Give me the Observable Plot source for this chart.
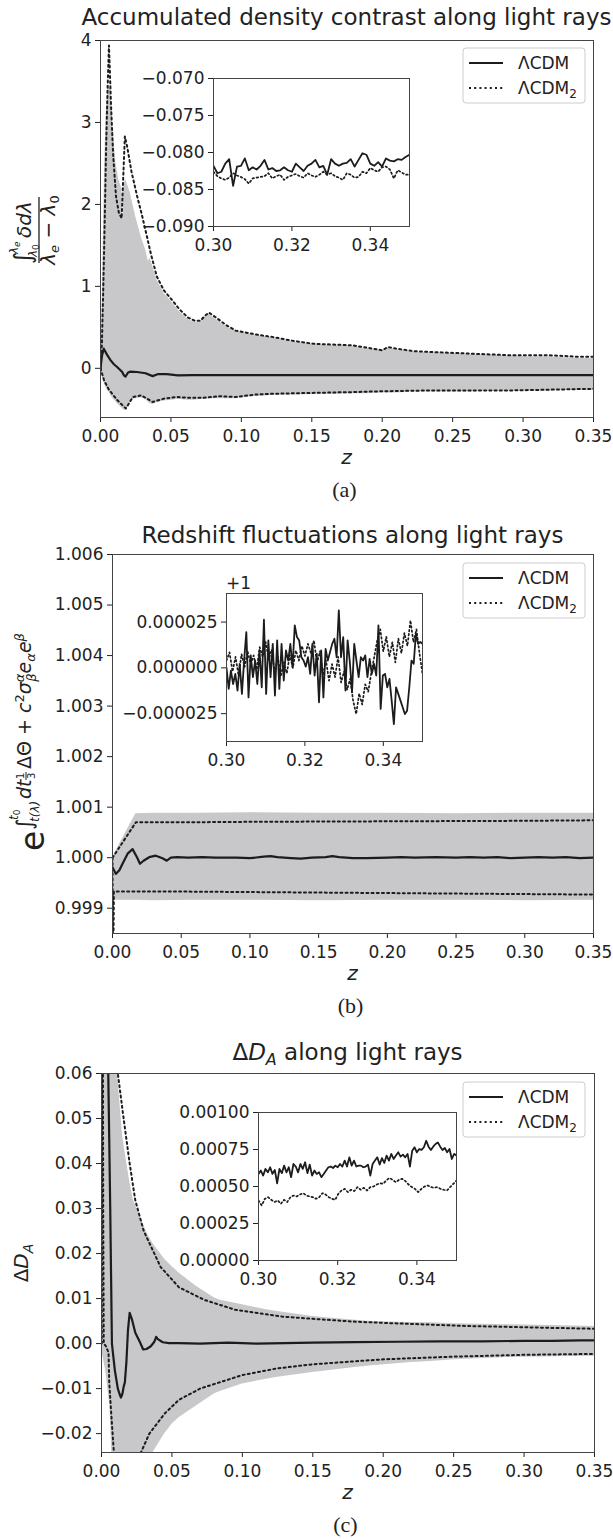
<!DOCTYPE html>
<html>
<head>
<meta charset="utf-8">
<script src="https://cdn.jsdelivr.net/npm/d3@7"></script>
<script src="https://cdn.jsdelivr.net/npm/@observablehq/plot@0.6"></script>
<style>
  html, body { margin: 0; padding: 0; background: #ffffff; }
  #root { position: relative; width: 613px; height: 1539px; overflow: hidden; background: #ffffff; }
  .slot { position: absolute; }
  #overlay { position: absolute; left: 0; top: 0; pointer-events: none; }
</style>
</head>
<body>
<div id="root"></div>
<script>
// ---------------- shared ticks / labels ----------------
const xTicks = [0, 0.05, 0.10, 0.15, 0.20, 0.25, 0.30, 0.35];
const insetXTicks = [0.30, 0.32, 0.34];
const seriesLabels = [{base: "ΛCDM", sub: ""}, {base: "ΛCDM", sub: "2"}];
const titles = ["Accumulated density contrast along light rays", "Redshift fluctuations along light rays", " along light rays"];
const captions = ["(a)", "(b)", "(c)"];

// ---------------- panel (a) ----------------
const yTicksA = [0, 1, 2, 3, 4];
const bandA_z  = [0, 0.001, 0.002, 0.003, 0.004, 0.005, 0.006, 0.007, 0.008, 0.009, 0.011, 0.013, 0.015, 0.016, 0.0165, 0.018, 0.021, 0.023, 0.025, 0.029, 0.032, 0.034, 0.035, 0.037, 0.040, 0.045, 0.051, 0.054, 0.056, 0.062, 0.067, 0.071, 0.074, 0.077, 0.082, 0.089, 0.096, 0.105, 0.115, 0.123, 0.135, 0.151, 0.165, 0.179, 0.190, 0.200, 0.204, 0.210, 0.222, 0.234, 0.248, 0.262, 0.276, 0.290, 0.304, 0.317, 0.330, 0.340, 0.350];
const bandA_hi = [0, 0.6, 1.6, 2.5, 3.1, 3.35, 3.45, 3.4, 3.2, 2.9, 2.5, 2.3, 2.2, 1.8, 2.25, 2.3, 2.15, 2.0, 1.85, 1.6, 1.45, 1.3, 1.35, 1.25, 1.08, 0.92, 0.80, 0.74, 0.69, 0.60, 0.56, 0.56, 0.62, 0.66, 0.60, 0.51, 0.45, 0.42, 0.39, 0.37, 0.33, 0.29, 0.28, 0.27, 0.24, 0.21, 0.25, 0.23, 0.20, 0.19, 0.18, 0.17, 0.16, 0.15, 0.14, 0.14, 0.13, 0.12, 0.12];
const bandA_lo = [0, -0.08, -0.15, -0.2, -0.24, -0.27, -0.29, -0.32, -0.35, -0.37, -0.41, -0.45, -0.48, -0.50, -0.51, -0.51, -0.42, -0.38, -0.37, -0.36, -0.38, -0.41, -0.43, -0.44, -0.42, -0.40, -0.39, -0.38, -0.38, -0.39, -0.39, -0.38, -0.38, -0.37, -0.37, -0.37, -0.37, -0.35, -0.34, -0.33, -0.33, -0.32, -0.32, -0.31, -0.31, -0.30, -0.30, -0.30, -0.29, -0.29, -0.29, -0.29, -0.28, -0.28, -0.28, -0.28, -0.27, -0.27, -0.27];
const upA2_z = [0, 0.001, 0.002, 0.003, 0.004, 0.005, 0.006, 0.0075, 0.009, 0.011, 0.013, 0.015, 0.0163, 0.0173, 0.019, 0.022, 0.026, 0.029, 0.032, 0.036, 0.040, 0.045, 0.051, 0.056, 0.062, 0.067, 0.071, 0.074, 0.077, 0.082, 0.089, 0.096, 0.105, 0.115, 0.123, 0.135, 0.151, 0.165, 0.179, 0.190, 0.200, 0.204, 0.210, 0.222, 0.234, 0.248, 0.262, 0.276, 0.290, 0.304, 0.317, 0.330, 0.340, 0.350];
const upA2_v = [0, 0.3, 1.0, 1.8, 2.7, 3.4, 3.94, 3.2, 2.6, 2.1, 1.9, 1.83, 2.4, 2.83, 2.7, 2.4, 2.1, 1.9, 1.68, 1.38, 1.12, 0.95, 0.83, 0.72, 0.62, 0.58, 0.58, 0.64, 0.68, 0.62, 0.53, 0.46, 0.43, 0.40, 0.38, 0.34, 0.30, 0.29, 0.28, 0.25, 0.22, 0.26, 0.24, 0.21, 0.20, 0.19, 0.18, 0.17, 0.16, 0.16, 0.16, 0.15, 0.14, 0.14];
const loA2_z = [0, 0.0026, 0.006, 0.012, 0.018, 0.023, 0.029, 0.037, 0.045, 0.054, 0.063, 0.073, 0.085, 0.096, 0.110, 0.123, 0.150, 0.179, 0.200, 0.234, 0.260, 0.290, 0.320, 0.350];
const loA2_v = [0, -0.15, -0.26, -0.39, -0.49, -0.35, -0.33, -0.41, -0.37, -0.35, -0.36, -0.36, -0.34, -0.35, -0.32, -0.31, -0.30, -0.29, -0.28, -0.27, -0.27, -0.27, -0.26, -0.25];
const meanA_z = [0, 0.001, 0.0023, 0.0045, 0.0071, 0.0095, 0.0118, 0.0140, 0.0154, 0.0166, 0.0178, 0.0194, 0.021, 0.026, 0.032, 0.037, 0.041, 0.047, 0.055, 0.065, 0.08, 0.10, 0.15, 0.20, 0.25, 0.30, 0.35];
const meanA_v = [0, 0.15, 0.24, 0.17, 0.10, 0.05, 0.016, -0.02, -0.045, -0.085, -0.10, -0.055, -0.04, -0.045, -0.06, -0.095, -0.07, -0.07, -0.085, -0.082, -0.082, -0.082, -0.082, -0.082, -0.082, -0.082, -0.082];
// inset (a): 0.300 ... 0.350 every 0.001
const insetA_yTicks = [-0.090, -0.085, -0.080, -0.075, -0.070];
const insetA_solid = [-0.0818, -0.0828, -0.0826, -0.0815, -0.0809, -0.0845, -0.0819, -0.0818, -0.0808, -0.0824, -0.0820, -0.0823, -0.0818, -0.0810, -0.0823, -0.0821, -0.0825, -0.0824, -0.0820, -0.0824, -0.0826, -0.0815, -0.0820, -0.0825, -0.0818, -0.0815, -0.0810, -0.0820, -0.0818, -0.0830, -0.0809, -0.0815, -0.0818, -0.0815, -0.0814, -0.0809, -0.0819, -0.0810, -0.0801, -0.0803, -0.0815, -0.0818, -0.0813, -0.0819, -0.0808, -0.0811, -0.0812, -0.0809, -0.0810, -0.0806, -0.0803];
const insetA_dotted = [-0.0826, -0.0832, -0.0835, -0.0837, -0.0834, -0.0828, -0.0831, -0.0833, -0.0836, -0.0842, -0.0835, -0.0834, -0.0833, -0.0832, -0.0828, -0.0835, -0.0832, -0.0830, -0.0837, -0.0833, -0.0831, -0.0829, -0.0832, -0.0834, -0.0828, -0.0831, -0.0833, -0.0830, -0.0826, -0.0830, -0.0828, -0.0832, -0.0834, -0.0837, -0.0828, -0.0830, -0.0834, -0.0833, -0.0826, -0.0828, -0.0821, -0.0824, -0.0826, -0.0820, -0.0819, -0.0823, -0.0835, -0.0824, -0.0827, -0.0830, -0.0830];

// ---------------- panel (b) ----------------
const yTicksB = [0.999, 1.000, 1.001, 1.002, 1.003, 1.004, 1.005, 1.006];
const bandB_z  = [0, 0.0008, 0.005, 0.010, 0.017, 0.030, 0.060, 0.100, 0.150, 0.200, 0.250, 0.300, 0.350];
const bandB_hi = [1.00000, 1.00004, 1.00026, 1.00052, 1.00087, 1.00088, 1.00088, 1.00089, 1.00088, 1.00088, 1.00087, 1.00088, 1.00088];
const bandB_lo = [0.99990, 0.99916, 0.99916, 0.99916, 0.99916, 0.99915, 0.99916, 0.99916, 0.99915, 0.99916, 0.99916, 0.99915, 0.99916];
const upB2_z = [0, 0.017, 0.05, 0.10, 0.20, 0.30, 0.35];
const upB2_v = [1.00000, 1.00070, 1.00070, 1.00071, 1.00072, 1.00073, 1.00074];
const loB2_z = [0, 0.0003, 0.0006, 0.0010, 0.05, 0.10, 0.20, 0.30, 0.35];
const loB2_v = [1.00000, 0.99800, 0.99800, 0.99933, 0.99933, 0.99932, 0.99930, 0.99928, 0.99927];
const meanB_z = [0, 0.0024, 0.005, 0.0073, 0.011, 0.0146, 0.018, 0.020, 0.0226, 0.0267, 0.0315, 0.0364, 0.0395, 0.0425, 0.047, 0.055, 0.065, 0.075, 0.090, 0.100, 0.110, 0.115, 0.120, 0.130, 0.137, 0.145, 0.155, 0.160, 0.165, 0.175, 0.185, 0.200, 0.210, 0.220, 0.235, 0.250, 0.260, 0.270, 0.280, 0.290, 0.300, 0.310, 0.320, 0.330, 0.340, 0.350];
const meanB_v = [0.99981, 0.99968, 0.99975, 0.99988, 1.00008, 1.00017, 1.00000, 0.99988, 0.99994, 1.00001, 1.00004, 0.99999, 0.99994, 1.00000, 1.00001, 1.00000, 1.00001, 1.00000, 1.00000, 0.99999, 1.00002, 1.00003, 1.00001, 0.99999, 0.99998, 1.00000, 1.00001, 1.00003, 1.00001, 0.99999, 0.99999, 1.00000, 1.00001, 1.00000, 1.00001, 1.00000, 1.00001, 1.00000, 1.00001, 0.99999, 1.00000, 1.00001, 1.00000, 1.00001, 0.99999, 1.00000];
// inset (b): deviations from 1, in units of 1e-6, evenly spaced over 0.30 ... 0.35
const insetB_yTicks = [-0.000025, 0, 0.000025];
const insetB_solid_micro = [0, -11.5, -1.5, -8.8, -3.3, -12.4, 2.2, -14.2, 4.0, 19.5, -16.1, 6.8, -5.1, 4.0, -8.8, 9.5, -10.6, 26.3, -14.2, 15.0, -5.1, 13.1, -15.1, 15.0, -11.5, 13.1, -6.9, 9.5, 4.0, 13.1, 0.4, 23.2, 16.8, 15.0, 5.8, 4.0, 0.7, 5.8, -3.3, 13.1, -4.2, 7.7, -18.8, 9.5, -16.1, 10.4, 4.0, 8.6, 13.1, 15.9, 5.8, 31.4, 5.8, 16.8, -12.4, 15.0, 3.1, -13.3, 13.1, 4.0, -5.1, 5.8, 4.0, 6.8, -5.1, 4.9, -3.3, 2.2, -4.2, 23.2, -22.4, -4.2, -3.3, -10.6, -6.0, -17.9, -30.7, -10.6, -14.2, -17.9, -21.5, -25.2, -23.4, -10.6, 4.0, 2.2, 18.6, 13.1, 14.1, 13.1];
const insetB_dotted_micro = [4.0, 8.5, -2.0, 6.0, -4.2, 7.5, 0.5, 9.0, 2.0, 6.8, -1.0, 11.3, 6.0, 14.1, 4.5, 10.0, -2.5, 6.0, -4.5, 3.0, -3.0, 7.0, 0.0, 9.5, 4.0, 12.0, 6.5, 13.1, 8.0, 15.0, 2.5, 9.0, -4.0, 4.0, -7.0, 2.0, -5.0, 6.0, -8.0, -2.0, -12.0, -6.0, -18.0, -25.2, -14.0, -20.0, -9.0, -13.0, -3.0, 6.0, 15.0, 21.0, 9.0, 17.0, 6.0, 14.0, 3.0, 16.0, 8.0, 19.0, 12.0, 25.9, 14.0, 21.0, 8.0, -3.3];

// ---------------- panel (c) ----------------
const yTicksC = [-0.02, -0.01, 0, 0.01, 0.02, 0.03, 0.04, 0.05, 0.06];
const bandC_z  = [0, 0.0004, 0.003, 0.006, 0.008, 0.0114, 0.015, 0.020, 0.0227, 0.0324, 0.0366, 0.045, 0.0504, 0.055, 0.067, 0.080, 0.0837, 0.100, 0.117, 0.125, 0.150, 0.180, 0.192, 0.220, 0.234, 0.250, 0.289, 0.320, 0.350];
const bandC_hi = [0, 0.2, 0.2, 0.11, 0.085, 0.06, 0.046, 0.036, 0.0318, 0.0245, 0.0222, 0.0187, 0.0170, 0.0157, 0.0128, 0.0102, 0.0097, 0.0086, 0.0075, 0.0071, 0.0060, 0.0052, 0.0049, 0.0047, 0.0046, 0.0044, 0.0042, 0.0040, 0.0038];
const bandC_lo = [0, -0.002, -0.006, -0.014, -0.03, -0.08, -0.06, -0.045, -0.04, -0.028, -0.0242, -0.0200, -0.0178, -0.0165, -0.0139, -0.0112, -0.0107, -0.0090, -0.0079, -0.0075, -0.0064, -0.0053, -0.0049, -0.0042, -0.0040, -0.0036, -0.0031, -0.0029, -0.0028];
const upC2_z = [0, 0.0005, 0.004, 0.0116, 0.0157, 0.020, 0.024, 0.030, 0.042, 0.055, 0.073, 0.095, 0.128, 0.150, 0.178, 0.200, 0.234, 0.260, 0.290, 0.317, 0.350];
const upC2_v = [0, 0.15, 0.15, 0.060, 0.050, 0.040, 0.0318, 0.025, 0.0170, 0.0125, 0.0097, 0.0075, 0.0060, 0.0055, 0.0049, 0.0046, 0.0042, 0.0039, 0.0037, 0.0035, 0.0033];
const loC2_z = [0, 0.0005, 0.0012, 0.0016, 0.003, 0.005, 0.0055, 0.007, 0.0088, 0.010, 0.015, 0.020, 0.028, 0.034, 0.045, 0.055, 0.070, 0.085, 0.100, 0.125, 0.150, 0.200, 0.250, 0.300, 0.350];
const loC2_v = [0, 0.15, 0.03, 0.0, -0.0005, -0.002, -0.0086, -0.016, -0.0242, -0.03, -0.06, -0.04, -0.0242, -0.020, -0.0155, -0.0125, -0.0100, -0.0085, -0.0070, -0.0055, -0.0046, -0.0035, -0.0029, -0.0025, -0.0023];
const meanC_z = [0, 0.004, 0.0048, 0.0062, 0.0074, 0.0095, 0.0116, 0.0128, 0.0138, 0.0148, 0.0158, 0.0166, 0.0177, 0.0188, 0.020, 0.0215, 0.024, 0.027, 0.0296, 0.032, 0.035, 0.0375, 0.0388, 0.040, 0.0435, 0.048, 0.055, 0.070, 0.090, 0.110, 0.130, 0.150, 0.180, 0.210, 0.240, 0.270, 0.300, 0.320, 0.340, 0.350];
const meanC_v = [0.15, 0.10, 0.06, 0.03, 0.0, -0.006, -0.0100, -0.0112, -0.0120, -0.0112, -0.0095, -0.0086, -0.004, 0.003, 0.0068, 0.0055, 0.0024, 0.0005, -0.0013, -0.0012, -0.0006, 0.0004, 0.0015, 0.0010, 0.0003, 0.0001, 0.0001, 0.0000, 0.0002, 0.0000, 0.0001, 0.0002, 0.0003, 0.0004, 0.0005, 0.0005, 0.0006, 0.0006, 0.0007, 0.0007];
// inset (c): values in units of 1e-6, evenly spaced over 0.30 ... 0.35
const insetC_yTicks = [0, 0.00025, 0.0005, 0.00075, 0.001];
const insetC_solid_micro = [585, 608, 574, 619, 596, 630, 585, 612, 522, 619, 590, 641, 596, 630, 563, 652, 635, 596, 652, 619, 664, 590, 648, 574, 608, 585, 596, 563, 585, 608, 630, 635, 625, 641, 630, 652, 635, 675, 635, 697, 641, 675, 635, 641, 641, 630, 635, 648, 574, 652, 675, 697, 648, 692, 659, 709, 675, 720, 686, 709, 731, 702, 715, 697, 720, 635, 742, 765, 731, 753, 747, 765, 809, 769, 747, 769, 787, 798, 769, 747, 760, 731, 753, 686, 720, 709];
const insetC_dotted_micro = [406, 372, 417, 428, 410, 395, 406, 383, 410, 395, 428, 439, 433, 446, 455, 439, 433, 428, 417, 428, 455, 446, 428, 417, 410, 451, 473, 484, 462, 478, 469, 496, 478, 491, 473, 496, 500, 513, 522, 518, 540, 558, 545, 529, 545, 552, 536, 513, 496, 484, 462, 484, 500, 507, 496, 491, 496, 484, 478, 473, 496, 518, 540];

// ---------------- style constants ----------------
const FONT = "DejaVu Sans, Verdana, sans-serif";
const INK = "#222222";
const LINE = "#1c1c1c";
const BAND = "#c8c8cb";
const FRAME = "#444444";
const DASH = "2,3.2";
const DASH_IN = "1.6,2.6";

const minus = s => s.replace("-", "\u2212");
const rows = (z, v, k = 1) => z.map((zz, i) => ({z: zz, v: v[i] * k}));
const band = (z, lo, hi) => z.map((zz, i) => ({z: zz, lo: lo[i], hi: hi[i]}));
const evenRows = (v, k = 1) => v.map((vv, i) => ({z: 0.30 + i * 0.05 / (v.length - 1), v: vv * k}));

const root = document.getElementById("root");
function place(node, left, top) {
  const d = document.createElement("div");
  d.className = "slot";
  d.style.left = left + "px";
  d.style.top = top + "px";
  d.appendChild(node);
  root.appendChild(d);
}

function mainPlot({height, mL, mR, yDomain, yTicks, yFmt, bandData, lines}) {
  return Plot.plot({
    width: 613, height,
    marginLeft: mL, marginRight: mR, marginTop: 40, marginBottom: 40,
    style: {fontFamily: FONT, fontSize: "17px", color: INK, background: "transparent", overflow: "visible"},
    x: {domain: [0, 0.35], ticks: xTicks, tickFormat: d => d.toFixed(2), tickSize: 5, tickPadding: 7, label: null},
    y: {domain: yDomain, ticks: yTicks, tickFormat: yFmt, tickSize: 5, tickPadding: 4, label: null},
    marks: [
      Plot.areaY(bandData, {x: "z", y1: "lo", y2: "hi", fill: BAND, clip: true}),
      ...lines,
      Plot.frame({stroke: FRAME, strokeWidth: 1})
    ]
  });
}

function insetPlot({mL, fw, yDomain, yTicks, yFmt, solid, dotted}) {
  return Plot.plot({
    width: mL + fw + 14, height: 10 + 148 + 32,
    marginLeft: mL, marginRight: 14, marginTop: 10, marginBottom: 32,
    style: {fontFamily: FONT, fontSize: "17px", color: INK, background: "transparent", overflow: "visible"},
    x: {domain: [0.30, 0.35], ticks: insetXTicks, tickFormat: d => d.toFixed(2), tickSize: 5, tickPadding: 7, label: null},
    y: {domain: yDomain, ticks: yTicks, tickFormat: yFmt, tickSize: 5, tickPadding: 4, label: null},
    marks: [
      Plot.frame({fill: "white", stroke: "none"}),
      Plot.line(dotted, {x: "z", y: "v", stroke: LINE, strokeWidth: 1.7, strokeDasharray: DASH_IN, clip: true}),
      Plot.line(solid, {x: "z", y: "v", stroke: LINE, strokeWidth: 1.8, clip: true}),
      Plot.frame({stroke: FRAME, strokeWidth: 1})
    ]
  });
}

const solidMark = (data) => Plot.line(data, {x: "z", y: "v", stroke: LINE, strokeWidth: 2.2, clip: true});
const dotMark = (data) => Plot.line(data, {x: "z", y: "v", stroke: LINE, strokeWidth: 2, strokeDasharray: DASH, clip: true});

// ---- main plots ----
place(mainPlot({
  height: 457, mL: 100, mR: 20, yDomain: [-0.6, 4], yTicks: yTicksA, yFmt: d => minus(String(d)),
  bandData: band(bandA_z, bandA_lo, bandA_hi),
  lines: [dotMark(rows(upA2_z, upA2_v)), dotMark(rows(loA2_z, loA2_v)), solidMark(rows(meanA_z, meanA_v))]
}), 0, 0);

place(mainPlot({
  height: 459, mL: 112, mR: 20, yDomain: [0.9985, 1.006], yTicks: yTicksB, yFmt: d => d.toFixed(3),
  bandData: band(bandB_z, bandB_lo, bandB_hi),
  lines: [dotMark(rows(upB2_z, upB2_v)), dotMark(rows(loB2_z, loB2_v)), solidMark(rows(meanB_z, meanB_v))]
}), 0, 514);

place(mainPlot({
  height: 459, mL: 101, mR: 19, yDomain: [-0.0242, 0.06], yTicks: yTicksC, yFmt: d => minus(d.toFixed(2)),
  bandData: band(bandC_z, bandC_lo, bandC_hi),
  lines: [dotMark(rows(upC2_z, upC2_v)), dotMark(rows(loC2_z, loC2_v)), solidMark(rows(meanC_z, meanC_v))]
}), 0, 1033);

// ---- insets ----
place(insetPlot({
  mL: 90, fw: 196, yDomain: [-0.090, -0.070], yTicks: insetA_yTicks, yFmt: d => minus(d.toFixed(3)),
  solid: evenRows(insetA_solid), dotted: evenRows(insetA_dotted)
}), 213 - 90, 78 - 10);

place(insetPlot({
  mL: 115, fw: 196, yDomain: [-0.0000402, 0.0000406], yTicks: insetB_yTicks, yFmt: d => minus(d.toFixed(6)),
  solid: evenRows(insetB_solid_micro, 1e-6), dotted: evenRows(insetB_dotted_micro, 1e-6)
}), 226 - 115, 593 - 10);

place(insetPlot({
  mL: 90, fw: 198, yDomain: [0, 0.001], yTicks: insetC_yTicks, yFmt: d => d.toFixed(5),
  solid: evenRows(insetC_solid_micro, 1e-6), dotted: evenRows(insetC_dotted_micro, 1e-6)
}), 258 - 90, 1112 - 10);

// ---------------- text overlay ----------------
const ov = d3.select(root).append("svg").attr("id", "overlay")
  .attr("width", 613).attr("height", 1539)
  .attr("font-family", FONT).attr("fill", INK);

// titles
ov.append("text").attr("x", 346.5).attr("y", 25).attr("text-anchor", "middle").attr("font-size", 23).text(titles[0]);
ov.append("text").attr("x", 352.5).attr("y", 543).attr("text-anchor", "middle").attr("font-size", 23).text(titles[1]);
{
  const t = ov.append("text").attr("x", 347.5).attr("y", 1060).attr("text-anchor", "middle").attr("font-size", 23);
  t.append("tspan").text("Δ");
  t.append("tspan").attr("font-style", "italic").text("D");
  t.append("tspan").attr("font-style", "italic").attr("font-size", 16).attr("dy", 5).text("A");
  t.append("tspan").attr("dy", -5).text(titles[2]);
}

// x labels and captions
[[346.5, 417], [352.5, 933], [347.5, 1452]].forEach(([cx, fb], i) => {
  ov.append("text").attr("x", cx).attr("y", fb + 47).attr("text-anchor", "middle")
    .attr("font-size", 20).attr("font-style", "italic").text("z");
  ov.append("text").attr("x", cx - 2).attr("y", fb + 80).attr("text-anchor", "middle")
    .attr("font-family", "Liberation Serif, Times New Roman, serif").attr("font-size", 22).text(captions[i]);
});

// legends
function legend(x, y) {
  const g = ov.append("g");
  g.append("rect").attr("x", x).attr("y", y).attr("width", 122).attr("height", 55).attr("rx", 3)
    .attr("fill", "white").attr("fill-opacity", 0.85).attr("stroke", "#cccccc").attr("stroke-width", 1);
  g.append("line").attr("x1", x + 6).attr("x2", x + 40).attr("y1", y + 15).attr("y2", y + 15)
    .attr("stroke", LINE).attr("stroke-width", 2.2);
  g.append("line").attr("x1", x + 6).attr("x2", x + 40).attr("y1", y + 40).attr("y2", y + 40)
    .attr("stroke", LINE).attr("stroke-width", 2).attr("stroke-dasharray", DASH);
  seriesLabels.forEach((s, i) => {
    const t = g.append("text").attr("x", x + 55).attr("y", y + 15 + 25 * i + 6).attr("font-size", 17);
    t.append("tspan").text(s.base);
    if (s.sub) t.append("tspan").attr("font-size", 12).attr("dy", 4).text(s.sub);
  });
}
legend(463, 48);
legend(463, 563);
legend(463, 1082);

// "+1" offset label of inset (b)
ov.append("text").attr("x", 226).attr("y", 589).attr("font-size", 17).text("+1");

// y label (a): fraction
{
  const g = ov.append("g").attr("transform", "translate(40,230) rotate(-90)");
  g.append("text").attr("x", -34).attr("y", -9).attr("font-size", 24).text("∫");
  const sup = g.append("text").attr("x", -24).attr("y", -22).attr("font-size", 12).attr("font-style", "italic");
  sup.append("tspan").text("λ"); sup.append("tspan").attr("font-size", 9).attr("dy", 2).text("e");
  const sub = g.append("text").attr("x", -27).attr("y", -3).attr("font-size", 12).attr("font-style", "italic");
  sub.append("tspan").text("λ"); sub.append("tspan").attr("font-size", 9).attr("dy", 2).attr("font-style", "normal").text("0");
  g.append("text").attr("x", -8).attr("y", -9).attr("font-size", 20).attr("font-style", "italic").text("δdλ");
  g.append("line").attr("x1", -33).attr("x2", 33).attr("y1", -1).attr("y2", -1).attr("stroke", INK).attr("stroke-width", 1.3);
  const den = g.append("text").attr("x", 0).attr("y", 15).attr("text-anchor", "middle").attr("font-size", 20).attr("font-style", "italic");
  den.append("tspan").text("λ");
  den.append("tspan").attr("font-size", 13).attr("dy", 4).text("e");
  den.append("tspan").attr("dy", -4).attr("font-style", "normal").text(" − ");
  den.append("tspan").text("λ");
  den.append("tspan").attr("font-size", 13).attr("dy", 4).attr("font-style", "normal").text("0");
}

// y label (b): exponential of an integral
{
  const g = ov.append("g").attr("transform", "translate(44,851) rotate(-90)");
  g.append("text").attr("x", 0).attr("y", 0).attr("font-size", 33).text("e");
  g.append("text").attr("x", 21).attr("y", -12).attr("font-size", 22).text("∫");
  const up = g.append("text").attr("x", 31).attr("y", -26).attr("font-size", 12).attr("font-style", "italic");
  up.append("tspan").text("t"); up.append("tspan").attr("font-size", 9).attr("dy", 2).attr("font-style", "normal").text("0");
  g.append("text").attr("x", 29).attr("y", -5).attr("font-size", 12).attr("font-style", "italic").text("t(λ)");
  g.append("text").attr("x", 52).attr("y", -13).attr("font-size", 19).attr("font-style", "italic").text("dt");
  g.append("text").attr("x", 72).attr("y", -20).attr("font-size", 10).text("1");
  g.append("line").attr("x1", 71).attr("x2", 79).attr("y1", -18).attr("y2", -18).attr("stroke", INK).attr("stroke-width", 1);
  g.append("text").attr("x", 72).attr("y", -9).attr("font-size", 10).text("3");
  const t = g.append("text").attr("x", 82).attr("y", -13).attr("font-size", 19);
  t.append("tspan").text("ΔΘ + ");
  t.append("tspan").attr("font-style", "italic").text("c");
  t.append("tspan").attr("font-size", 13).attr("dy", -7).text("2");
  t.append("tspan").attr("font-style", "italic").attr("dy", 7).text("σ");
  t.append("tspan").attr("font-style", "italic").attr("font-size", 13).attr("dy", -7).text("α");
  t.append("tspan").attr("font-style", "italic").attr("font-size", 13).attr("dx", -8).attr("dy", 12).text("β");
  t.append("tspan").attr("font-style", "italic").attr("dy", -5).text("e");
  t.append("tspan").attr("font-style", "italic").attr("font-size", 13).attr("dy", 4).text("α");
  t.append("tspan").attr("font-style", "italic").attr("dy", -4).text("e");
  t.append("tspan").attr("font-style", "italic").attr("font-size", 13).attr("dy", -7).text("β");
}

// y label (c)
{
  const g = ov.append("g").attr("transform", "translate(28,1263) rotate(-90)");
  const t = g.append("text").attr("x", 0).attr("y", 0).attr("text-anchor", "middle").attr("font-size", 20);
  t.append("tspan").text("Δ");
  t.append("tspan").attr("font-style", "italic").text("D");
  t.append("tspan").attr("font-style", "italic").attr("font-size", 14).attr("dy", 5).text("A");
}
</script>
</body>
</html>
